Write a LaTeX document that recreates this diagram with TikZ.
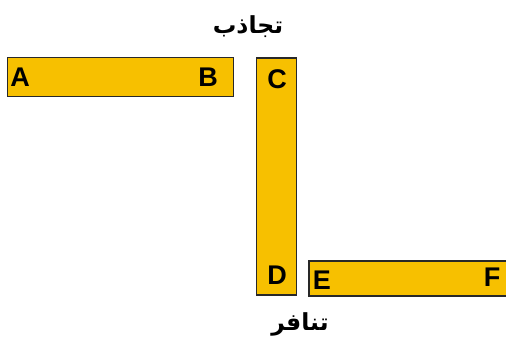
\documentclass[tikz,border=0pt]{standalone}
\usepackage{fontspec}
\setmainfont{Liberation Sans}
\newfontfamily\arabicfont[Script=Arabic]{DejaVu Sans}
\TeXXeTstate=1
\definecolor{baryellow}{RGB}{247,192,0}
\definecolor{barline}{RGB}{40,40,40}
\begin{document}
\begin{tikzpicture}[x=1pt,y=-1pt,
  bar/.style={draw=barline,line width=1.2pt,fill=baryellow,inner sep=0pt,outer sep=0pt},
  letter/.style={font=\bfseries\fontsize{27}{27}\selectfont,inner sep=0pt,text=black},
  arab/.style={font=\arabicfont\bfseries\fontsize{23.5}{28}\selectfont,inner sep=0pt}]
\useasboundingbox (0,0) rectangle (506,345);
\node[bar,minimum width=226pt,minimum height=39pt] (ab) at (120.5,77) {};
\node[bar,minimum width=40pt,minimum height=237pt] (cd) at (276.5,176.5) {};
\node[bar,minimum width=200pt,minimum height=35pt] (ef) at (409,278.5) {};
\node[letter] (A) at (20,77) {A};
\node[letter] (B) at (208,77) {B};
\node[letter] (C) at (277,79) {C};
\node[letter] (D) at (277,275) {D};
\node[letter] (E) at (322,280) {E};
\node[letter] (F) at (492,277) {F};
\node[arab] (attr) at (248,27) {\beginR تجاذب\endR};
\node[arab] (rep) at (300,324) {\beginR تنافر\endR};
\end{tikzpicture}
\end{document}
